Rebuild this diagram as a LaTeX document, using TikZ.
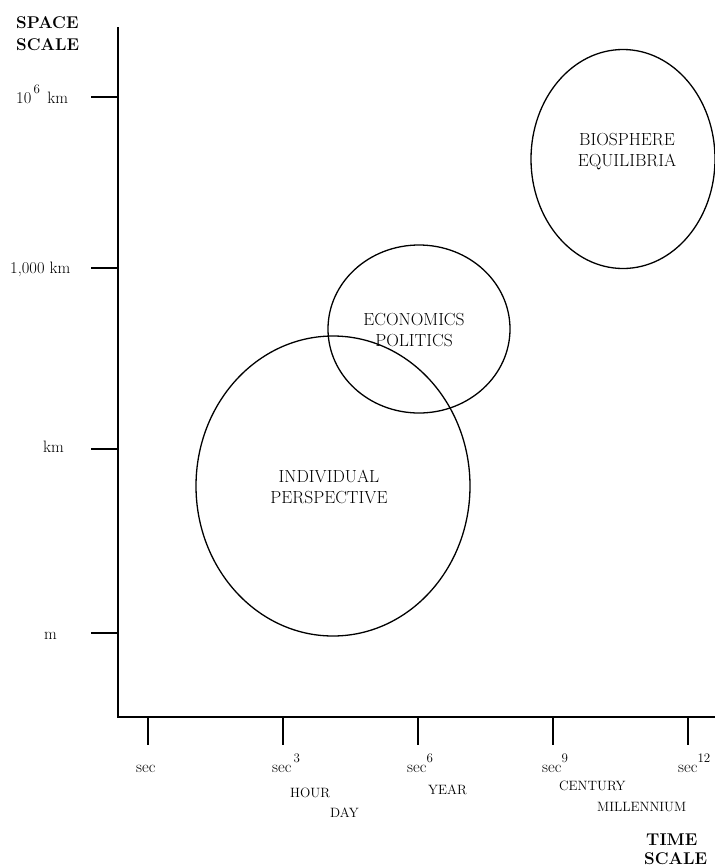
\documentclass[tikz,border=0pt]{standalone}
\usetikzlibrary{shapes.geometric}
\begin{document}
\begin{tikzpicture}[x=1pt,y=-1pt,
  axis/.style={line width=1.6pt},
  tickmark/.style={line width=1.4pt},
  region/.style={ellipse,draw,line width=1.3pt,inner sep=0pt},
  regionlabel/.style={align=center,font=\fontsize{17.5}{21}\selectfont},
  ticklabel/.style={anchor=base west,inner sep=0pt,font=\fontsize{16.5}{19}\selectfont},
  unitlabel/.style={anchor=base west,inner sep=0pt,font=\fontsize{13.5}{16}\selectfont},
  axistitle/.style={anchor=base west,inner sep=0pt,font=\bfseries\fontsize{17}{19}\selectfont}]
\useasboundingbox (0,0) rectangle (715,868);

% axes
\coordinate (ytop) at (118,27);
\coordinate (origin) at (118,717);
\coordinate (xend) at (715,717);
\draw[axis] (ytop) -- (origin) -- (xend);

% space-scale ticks
\foreach \name/\yy in {ymega/97, ythou/268, ykm/449, ym/633}{
  \coordinate (\name) at (118,\yy);
  \coordinate (\name-out) at (91,\yy);
  \draw[tickmark] (\name-out) -- (\name);
}
% time-scale ticks
\foreach \name/\xx in {tsec/148, tthree/283, tsix/418, tnine/553, ttwelve/688}{
  \coordinate (\name) at (\xx,717);
  \coordinate (\name-out) at (\xx,745);
  \draw[tickmark] (\name) -- (\name-out);
}

% axis titles
\node[axistitle] (spaceA) at (16,28) {SPACE};
\node[axistitle] (spaceB) at (16,50) {SCALE};
\node[axistitle] (timeA) at (646,845) {TIME};
\node[axistitle] (timeB) at (644,864) {SCALE};

% space-scale labels
\node[ticklabel] (lmega) at (16,103) {10\raisebox{0.6em}{\fontsize{13}{15}\selectfont\,6}\hspace{0.45em}km};
\node[ticklabel] (lthou) at (10,273) {1,000 km};
\node[ticklabel] (lkm) at (43,452) {km};
\node[ticklabel] (lm) at (44,639) {m};

% time-scale labels
\node[ticklabel] (lsec) at (136,772) {sec};
\node[ticklabel] (lsec3) at (272,772) {sec\raisebox{0.55em}{\fontsize{13}{15}\selectfont\,3}};
\node[ticklabel] (lsec6) at (407,772) {sec\raisebox{0.55em}{\fontsize{13}{15}\selectfont 6}};
\node[ticklabel] (lsec9) at (542,772) {sec\raisebox{0.55em}{\fontsize{13}{15}\selectfont 9}};
\node[ticklabel] (lsec12) at (678,772) {sec\raisebox{0.55em}{\fontsize{13}{15}\selectfont 12}};

\node[unitlabel] (uhour) at (290,797) {HOUR};
\node[unitlabel] (uday) at (330,817) {DAY};
\node[unitlabel] (uyear) at (428,794) {YEAR};
\node[unitlabel] (ucent) at (559,790) {CENTURY};
\node[unitlabel] (umill) at (597,811) {MILLENNIUM};

% regions of concern
\node[region,minimum width=184pt,minimum height=219pt] (bio) at (623,159) {};
\node[region,minimum width=182pt,minimum height=168pt] (econ) at (419,329) {};
\node[region,minimum width=274pt,minimum height=300pt] (indiv) at (333,486) {};

\node[regionlabel] (tbio) at (627,152) {BIOSPHERE\\EQUILIBRIA};
\node[regionlabel] (tecon) at (414,330) {ECONOMICS\\POLITICS};
\node[regionlabel] (tindiv) at (329,487) {INDIVIDUAL\\PERSPECTIVE};
\end{tikzpicture}
\end{document}
